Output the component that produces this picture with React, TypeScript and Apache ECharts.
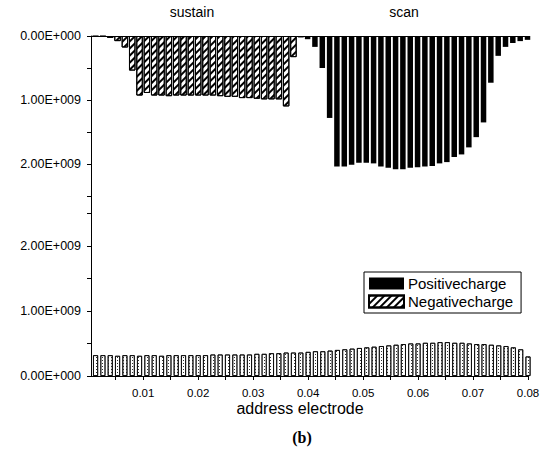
import React, { useEffect, useRef } from 'react';
import * as echarts from 'echarts';

// electrode position (address electrode axis)
const position = [
  0.00133, 0.00267, 0.004, 0.00533, 0.00667, 0.008, 0.00933, 0.01067, 0.012, 0.01333,
  0.01467, 0.016, 0.01733, 0.01867, 0.02, 0.02133, 0.02267, 0.024, 0.02533, 0.02667,
  0.028, 0.02933, 0.03067, 0.032, 0.03333, 0.03467, 0.036, 0.03733, 0.03867, 0.04,
  0.04133, 0.04267, 0.044, 0.04533, 0.04667, 0.048, 0.04933, 0.05067, 0.052, 0.05333,
  0.05467, 0.056, 0.05733, 0.05867, 0.06, 0.06133, 0.06267, 0.064, 0.06533, 0.06667,
  0.068, 0.06933, 0.07067, 0.072, 0.07333, 0.07467, 0.076, 0.07733, 0.07867, 0.08,
];

// values in units of 1E+009
// scan electrode, positive charge (hanging from the top)
const positiveCharge = [
  null, null, null, null, null, null, null, null, null, null,
  null, null, null, null, null, null, null, null, null, null,
  null, null, null, null, null, null, null, null, null, 0.05,
  0.17, 0.5, 1.28, 2.04, 2.04, 2.01, 1.98, 1.98, 1.99, 2.04,
  2.06, 2.08, 2.08, 2.06, 2.05, 2.04, 2.03, 1.99, 1.97, 1.89,
  1.85, 1.74, 1.58, 1.35, 0.73, 0.31, 0.17, 0.11, 0.08, 0.06,
];

// sustain electrode, negative charge (hanging from the top)
const negativeSustain = [
  0.01, 0.01, 0.03, 0.08, 0.18, 0.54, 0.93, 0.89, 0.93, 0.93,
  0.94, 0.93, 0.93, 0.93, 0.93, 0.93, 0.93, 0.94, 0.95, 0.95,
  0.97, 0.97, 0.98, 0.99, 0.99, 0.99, 1.1, 0.33, 0.02, null,
  null, null, null, null, null, null, null, null, null, null,
  null, null, null, null, null, null, null, null, null, null,
  null, null, null, null, null, null, null, null, null, null,
];

// address electrode, negative charge (lower panel)
const negativeAddress = [
  0.32, 0.32, 0.32, 0.31, 0.32, 0.32, 0.31, 0.32, 0.32, 0.31,
  0.32, 0.32, 0.32, 0.32, 0.32, 0.32, 0.33, 0.33, 0.33, 0.33,
  0.33, 0.33, 0.34, 0.34, 0.35, 0.35, 0.36, 0.36, 0.36, 0.37,
  0.38, 0.38, 0.39, 0.4, 0.41, 0.42, 0.43, 0.44, 0.45, 0.46,
  0.47, 0.48, 0.49, 0.5, 0.5, 0.51, 0.51, 0.52, 0.52, 0.51,
  0.51, 0.5, 0.49, 0.49, 0.48, 0.47, 0.46, 0.44, 0.41, 0.3,
];

const yTickValues = [0, 1, 2];
const yTickLabels = ['0.00E+000', '1.00E+009', '2.00E+009'];
const yMinorTicks = [0, 0.5, 1, 1.5, 2, 2.5];
const xTickValues = [0.01, 0.02, 0.03, 0.04, 0.05, 0.06, 0.07, 0.08];
const xTickLabels = ['0.01', '0.02', '0.03', '0.04', '0.05', '0.06', '0.07', '0.08'];
const xMinorTicks = [0.005, 0.01, 0.015, 0.02, 0.025, 0.03, 0.035, 0.04, 0.045, 0.05, 0.055, 0.06, 0.065, 0.07, 0.075, 0.08];

const FONT = 'Arial, "Liberation Sans", sans-serif';

function pairs(vals: (number | null)[]) {
  const out: [number, number][] = [];
  vals.forEach((v, i) => {
    if (v != null) out.push([position[i], v]);
  });
  return out;
}

function yLabel(v: number) {
  const k = yTickValues.findIndex((t) => Math.abs(t - v) < 1e-9);
  return k >= 0 ? yTickLabels[k] : '';
}
function xLabel(v: number) {
  const k = xTickValues.findIndex((t) => Math.abs(t - v) < 1e-9);
  return k >= 0 ? xTickLabels[k] : '';
}

const black = { color: '#000', width: 1 };

export default function App() {
  const ref = useRef<HTMLDivElement>(null);
  useEffect(() => {
    document.body.style.margin = '0';
    const chart = echarts.init(ref.current!, null, { renderer: 'svg' });
    const yAxisCommon = {
      type: 'value',
      axisLine: { show: true, onZero: false, lineStyle: black },
      axisTick: { show: true, inside: false, length: 4, customValues: yMinorTicks, lineStyle: black },
      axisLabel: {
        customValues: yTickValues,
        formatter: (v: number) => yLabel(v),
        fontSize: 12.5,
        fontFamily: FONT,
        color: '#000',
        margin: 10,
      },
      splitLine: { show: false },
    };
    const hatch = {
      symbol: 'rect',
      symbolSize: 1,
      dashArrayX: [1, 0],
      dashArrayY: [1.5, 2.5],
      rotation: -Math.PI / 4,
      color: '#000',
      backgroundColor: '#fff',
    };
    const dots = {
      symbol: 'rect',
      symbolSize: 1,
      dashArrayX: [1, 1.5],
      dashArrayY: [1, 2],
      rotation: 0,
      color: '#333',
      backgroundColor: '#fff',
    };
    chart.setOption({
      animation: false,
      backgroundColor: '#fff',
      grid: [
        { left: 91, top: 36, width: 437, height: 169 },
        { left: 91, top: 205, width: 437, height: 171 },
      ],
      xAxis: [
        {
          gridIndex: 0,
          type: 'value',
          min: 0.0005,
          max: 0.08,
          position: 'top',
          axisLine: { show: true, onZero: false, lineStyle: black },
          axisTick: { show: false },
          axisLabel: { show: false },
          splitLine: { show: false },
        },
        {
          gridIndex: 1,
          type: 'value',
          min: 0.0005,
          max: 0.08,
          position: 'bottom',
          axisLine: { show: true, onZero: false, lineStyle: black },
          axisTick: { show: true, inside: false, length: 4, customValues: xMinorTicks, lineStyle: black },
          axisLabel: {
            customValues: xTickValues,
            formatter: (v: number) => xLabel(v),
            fontSize: 11.5,
            fontFamily: FONT,
            color: '#000',
            margin: 11,
          },
          splitLine: { show: false },
        },
      ],
      yAxis: [
        { ...yAxisCommon, gridIndex: 0, inverse: true, min: 0, max: 2.64 },
        { ...yAxisCommon, gridIndex: 1, min: 0, max: 2.63 },
      ],
      legend: {
        data: ['Positivecharge', 'Negativecharge'],
        orient: 'vertical',
        left: 364,
        top: 272,
        itemWidth: 35,
        itemHeight: 12,
        itemGap: 3,
        borderColor: '#000',
        borderWidth: 1,
        borderRadius: 0,
        backgroundColor: '#fff',
        padding: [4, 8, 4, 4],
        icon: 'rect',
        textStyle: { fontSize: 15, fontFamily: FONT, color: '#000', padding: [0, 0, 0, -1] },
      },
      series: [
        {
          name: 'Positivecharge',
          type: 'bar',
          xAxisIndex: 0,
          yAxisIndex: 0,
          barWidth: 5.5,
          barGap: '-100%',
          itemStyle: { color: '#000' },
          data: pairs(positiveCharge),
        },
        {
          name: 'Negativecharge',
          type: 'bar',
          xAxisIndex: 0,
          yAxisIndex: 0,
          barWidth: 6.5,
          barGap: '-100%',
          itemStyle: { color: '#fff', borderColor: '#000', borderWidth: 1, decal: hatch },
          data: pairs(negativeSustain),
        },
        {
          name: 'address',
          type: 'bar',
          xAxisIndex: 1,
          yAxisIndex: 1,
          barWidth: 5,
          itemStyle: { color: '#fff', borderColor: '#000', borderWidth: 0.8, decal: dots },
          data: pairs(negativeAddress),
        },
      ],
      graphic: [
        { type: 'text', x: 192, y: 12, style: { text: 'sustain', font: `14px ${FONT}`, fill: '#000', textAlign: 'center', textVerticalAlign: 'middle' } },
        { type: 'text', x: 404, y: 12, style: { text: 'scan', font: `14px ${FONT}`, fill: '#000', textAlign: 'center', textVerticalAlign: 'middle' } },
        { type: 'text', x: 300, y: 408, style: { text: 'address electrode', font: `16px ${FONT}`, fill: '#000', textAlign: 'center', textVerticalAlign: 'middle' } },
        { type: 'text', x: 302, y: 437, style: { text: '(b)', font: `bold 16px "Times New Roman", "Liberation Serif", serif`, fill: '#000', textAlign: 'center', textVerticalAlign: 'middle' } },
      ],
    });
    return () => chart.dispose();
  }, []);
  return <div ref={ref} style={{ width: 548, height: 461 }} />;
}
